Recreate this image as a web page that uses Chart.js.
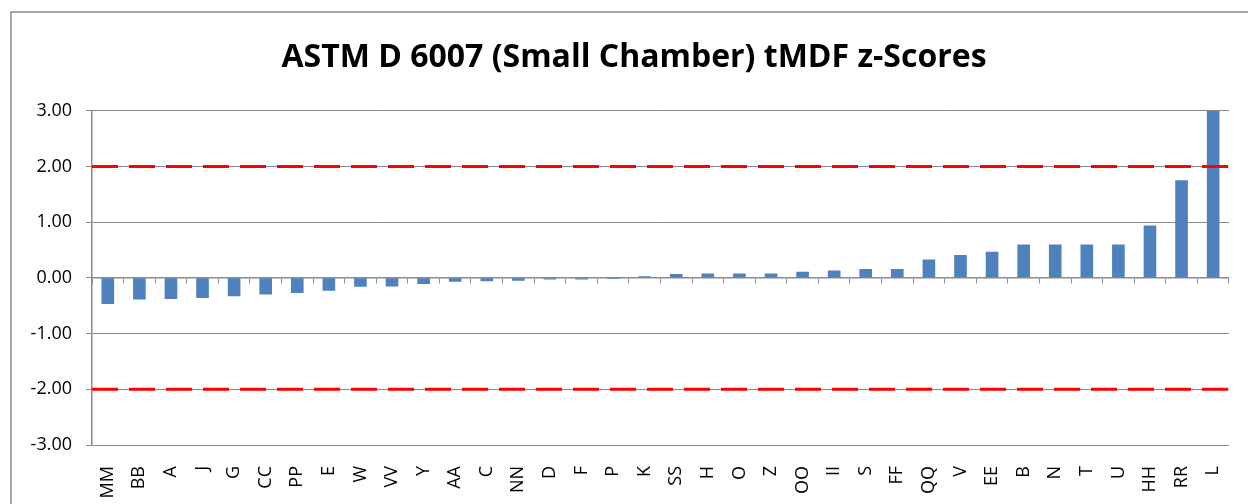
<!DOCTYPE html>
<html>
<head>
<meta charset="utf-8">
<script src="https://cdn.jsdelivr.net/npm/chart.js@4.4.1/dist/chart.umd.min.js"></script>
<style>
  html, body { margin: 0; padding: 0; background: #fff; }
  #wrap { width: 1248px; height: 504px; }
</style>
</head>
<body>
<div id="wrap"><canvas id="chart"></canvas></div>
<script>
// Labs, sorted by z-score
const LABS = ['MM', 'BB', 'A', 'J', 'G', 'CC', 'PP', 'E', 'W', 'VV', 'Y', 'AA', 'C', 'NN', 'D', 'F', 'P', 'K',
  'SS', 'H', 'O', 'Z', 'OO', 'II', 'S', 'FF', 'QQ', 'V', 'EE', 'B', 'N', 'T', 'U', 'HH', 'RR', 'L'];
const Z_SCORES = [-0.47, -0.39, -0.38, -0.36, -0.33, -0.30, -0.27, -0.23, -0.16, -0.155, -0.11, -0.07, -0.06, -0.05,
  -0.03, -0.03, -0.02, 0.03, 0.07, 0.08, 0.08, 0.08, 0.11, 0.13, 0.16, 0.16, 0.33, 0.41, 0.47, 0.60, 0.60, 0.60,
  0.60, 0.94, 1.75, 3.00];
const UPPER_LIMIT = 2;
const LOWER_LIMIT = -2;
const LIMIT_SPAN = [0, 1.008];   // limit lines run past the plot's right edge
const Y_MIN = -3, Y_MAX = 3, Y_STEP = 1;

const GRAY = '#8a8a8a';
const TICK_FONT = { family: 'Open Sans', size: 18 };

const limitLine = v => LIMIT_SPAN.map(x => ({ x, y: v }));

// outer chart border + centre the title on the whole canvas
const frame = {
  id: 'frame',
  afterLayout(chart) {
    const t = chart.titleBlock;
    t.left = 0;
    t.right = chart.width + 20;
  },
  beforeDraw(chart) {
    const c = chart.ctx;
    c.save();
    c.strokeStyle = GRAY;
    c.lineWidth = 1.5;
    c.strokeRect(11, 12, 1400, 800);
    c.restore();
  }
};

new Chart(document.getElementById('chart'), {
  type: 'bar',
  data: {
    labels: LABS,
    datasets: [
      {
        type: 'line', data: limitLine(UPPER_LIMIT), xAxisID: 'xLim',
        borderColor: '#ff0000', borderWidth: 3, borderDash: [26, 11],
        pointRadius: 0, clip: false, order: 0
      },
      {
        type: 'line', data: limitLine(LOWER_LIMIT), xAxisID: 'xLim',
        borderColor: '#ff0000', borderWidth: 3, borderDash: [26, 11],
        pointRadius: 0, clip: false, order: 0
      },
      {
        data: Z_SCORES, backgroundColor: '#4f81bd', grouped: false,
        barPercentage: 0.4, categoryPercentage: 1, order: 1
      }
    ]
  },
  options: {
    responsive: true,
    maintainAspectRatio: false,
    animation: false,
    layout: { padding: { left: 0, right: 19, top: 0, bottom: 0 } },
    plugins: {
      legend: { display: false },
      tooltip: { enabled: false },
      title: {
        display: true,
        text: 'ASTM D 6007 (Small Chamber) tMDF z-Scores',
        color: '#000',
        font: { family: 'Open Sans', size: 32, weight: 'bold' },
        padding: { top: 39, bottom: 33.3 }
      }
    },
    scales: {
      x: {
        position: 'bottom',
        grid: { display: false },
        border: { display: false },
        ticks: { color: '#000', font: TICK_FONT, minRotation: 90, maxRotation: 90, autoSkip: false, padding: 13 },
        afterFit(s) { s.height = 59; }
      },
      xZero: {
        type: 'category',
        position: { y: 0 },
        offset: true,
        grid: { offset: true, drawOnChartArea: false, color: GRAY, tickLength: 5 },
        border: { color: GRAY, width: 1.5 },
        ticks: { display: false }
      },
      xLim: { type: 'linear', min: 0, max: 1, offset: false, display: false },
      y: {
        min: Y_MIN, max: Y_MAX,
        grid: { color: GRAY, tickLength: 6 },
        border: { color: GRAY, width: 1.5 },
        ticks: { stepSize: Y_STEP, color: '#000', font: TICK_FONT, padding: 14, callback: v => v.toFixed(2) },
        afterFit(s) { s.width = 92; }
      }
    }
  },
  plugins: [frame]
});
</script>
</body>
</html>
